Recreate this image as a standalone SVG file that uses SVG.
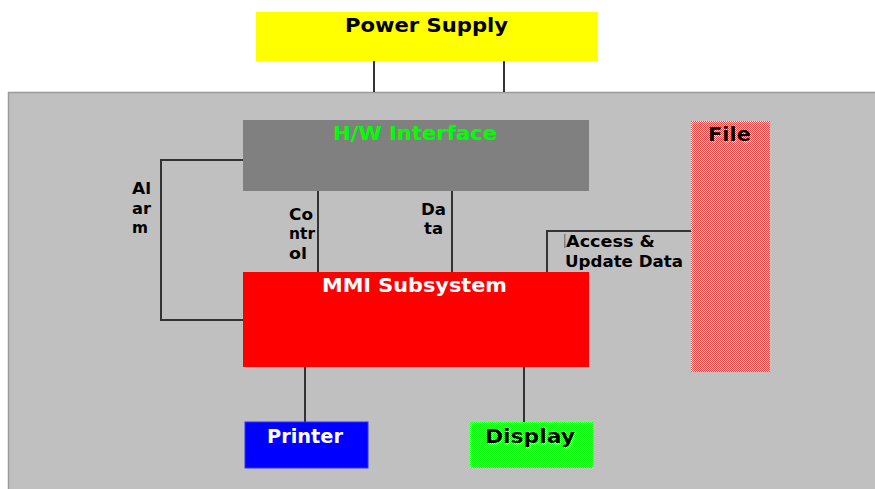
<svg xmlns="http://www.w3.org/2000/svg" width="875" height="489" viewBox="0 0 875 489">
<defs>
<pattern id="pinkDither" width="2" height="2" patternUnits="userSpaceOnUse">
<rect width="2" height="2" fill="#ffffff"/>
<rect x="0" y="0" width="1" height="1" fill="#ff3a3a"/>
<rect x="1" y="1" width="1" height="1" fill="#ff3a3a"/>
</pattern>
<pattern id="greenDither" width="2" height="2" patternUnits="userSpaceOnUse">
<rect width="2" height="2" fill="#ffffff"/>
<rect x="0" y="0" width="1" height="1" fill="#00ff00"/>
<rect x="1" y="1" width="1" height="1" fill="#00ff00"/>
</pattern>
</defs>
<style>
.t{font-family:"DejaVu Sans","Liberation Sans",sans-serif;font-weight:bold;}
.big{font-size:20px;}
.lbl{font-size:15px;fill:#000;}
.conn{stroke:#333;stroke-width:2;fill:none;}
</style>
<rect x="0" y="0" width="875" height="489" fill="#ffffff"/>
<rect id="enclosure" x="8.5" y="92.5" width="870" height="400" fill="#c0c0c0" stroke="#9a9a9a" stroke-width="1.5"/>
<g id="connectors">
<line class="conn" x1="374" y1="61" x2="374" y2="92"/>
<line class="conn" x1="504" y1="61" x2="504" y2="92"/>
<polyline class="conn" points="243,160 161,160 161,320 243,320"/>
<line class="conn" x1="318" y1="191" x2="318" y2="272"/>
<line class="conn" x1="452" y1="191" x2="452" y2="272"/>
<polyline class="conn" points="547,272 547,231 691,231"/>
<line class="conn" x1="305" y1="367" x2="305" y2="422"/>
<line class="conn" x1="524" y1="367" x2="524" y2="422"/>
<text class="t lbl" x="132" y="194" textLength="19" lengthAdjust="spacingAndGlyphs">Al</text>
<text class="t lbl" x="132" y="214" textLength="19" lengthAdjust="spacingAndGlyphs">ar</text>
<text class="t lbl" x="132" y="233" textLength="16" lengthAdjust="spacingAndGlyphs">m</text>
<text class="t lbl" x="289" y="220" textLength="24" lengthAdjust="spacingAndGlyphs">Co</text>
<text class="t lbl" x="289" y="239" textLength="26" lengthAdjust="spacingAndGlyphs">ntr</text>
<text class="t lbl" x="289" y="259" textLength="18" lengthAdjust="spacingAndGlyphs">ol</text>
<text class="t lbl" x="421" y="215" textLength="25" lengthAdjust="spacingAndGlyphs">Da</text>
<text class="t lbl" x="424" y="234" textLength="19" lengthAdjust="spacingAndGlyphs">ta</text>
<rect x="564" y="234" width="1.5" height="14" fill="#808080"/>
<text class="t lbl" x="566" y="247" textLength="89" lengthAdjust="spacingAndGlyphs">Access &amp;</text>
<text class="t lbl" x="565" y="267" textLength="118" lengthAdjust="spacingAndGlyphs">Update Data</text>
</g>
<g id="power-supply">
<rect x="256" y="12" width="342" height="49" fill="#ffff00"/>
<text class="t big" x="345" y="32" textLength="163" lengthAdjust="spacingAndGlyphs" fill="#000">Power Supply</text>
</g>
<g id="hw-interface">
<rect x="243" y="120" width="346" height="71" fill="#808080"/>
<text class="t big" x="333" y="140" textLength="164" lengthAdjust="spacingAndGlyphs" fill="#00ff00">H/W Interface</text>
</g>
<g id="mmi-subsystem">
<rect x="243" y="272" width="346" height="95" fill="#ff0000"/>
<text class="t big" x="322" y="292" textLength="185" lengthAdjust="spacingAndGlyphs" fill="#ffffff">MMI Subsystem</text>
</g>
<g id="file">
<rect x="691" y="121" width="79" height="251" fill="url(#pinkDither)"/>
<text class="t big" x="708" y="141" textLength="43" lengthAdjust="spacingAndGlyphs" fill="#000">File</text>
</g>
<g id="printer">
<rect x="245" y="422" width="123" height="46" fill="#0000ff" stroke="#3030ff" stroke-width="1"/>
<text class="t big" x="267" y="443" textLength="76" lengthAdjust="spacingAndGlyphs" fill="#ffffff">Printer</text>
</g>
<g id="display">
<rect x="470" y="422" width="123" height="46" fill="url(#greenDither)"/>
<text class="t big" x="485" y="443" textLength="90" lengthAdjust="spacingAndGlyphs" fill="#000">Display</text>
</g>
</svg>
